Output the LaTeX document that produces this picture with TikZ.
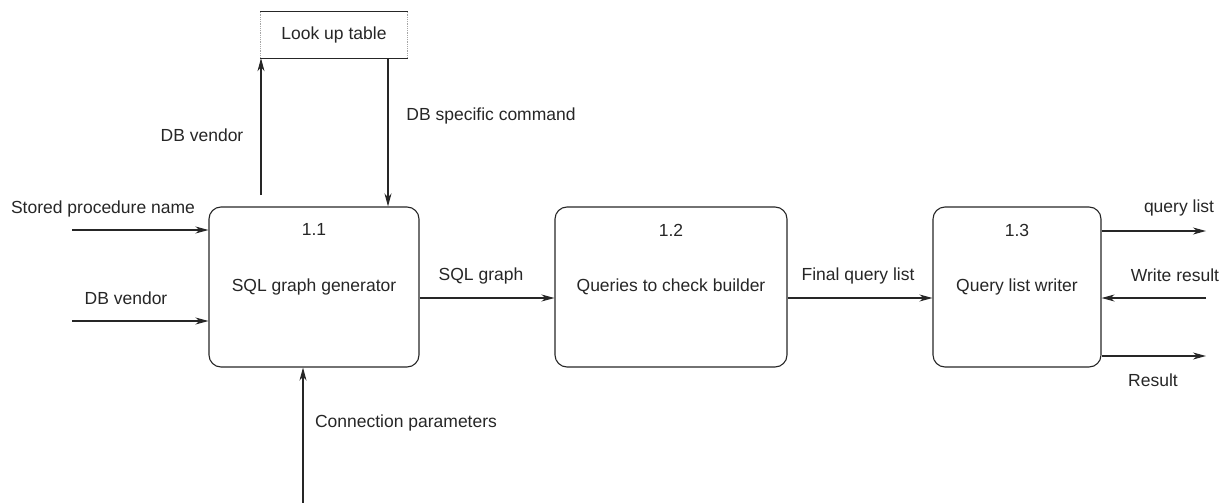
\documentclass[tikz,border=0pt]{standalone}
\usepackage{fontspec}
\setmainfont{Liberation Sans}
\usetikzlibrary{arrows.meta,calc}
\tikzset{
  proc/.style={draw=black!85, line width=1.1pt, rounded corners=12pt, minimum height=160pt, inner sep=0pt},
  lbl/.style={inner sep=0pt, font=\fontsize{17.5}{21}\selectfont, text=black!85},
  arr/.style={draw=black!85, line width=1.1pt, -{Stealth[length=13pt,width=7pt,inset=4pt]}},
  ln/.style={draw=black!85, line width=1.1pt}
}
\begin{document}
\begin{tikzpicture}[x=1pt,y=-1pt]
\useasboundingbox (0,0) rectangle (1229,503);
% process boxes
\node[proc, minimum width=210pt] (b11) at (314,287) {};
\node[proc, minimum width=232pt] (b12) at (671,287) {};
\node[proc, minimum width=168pt] (b13) at (1017,287) {};
\node[lbl] (n11) at ($(b11.north)+(0,23)$) {1.1};
\node[lbl] (t11) at (b11.center) {SQL graph generator};
\node[lbl] (n12) at ($(b12.north)+(0,24)$) {1.2};
\node[lbl] (t12) at (b12.center) {Queries to check builder};
\node[lbl] (n13) at ($(b13.north)+(0,24)$) {1.3};
\node[lbl] (t13) at (b13.center) {Query list writer};
% look up table
\node[inner sep=0pt, minimum width=147pt, minimum height=46pt] (lut) at (334,35) {};
\draw[ln] (lut.north west) -- (lut.north east);
\draw[ln] (lut.south west) -- (lut.south east);
\draw[black!35, densely dotted, line width=0.8pt] (lut.north west) -- (lut.south west);
\draw[black!35, densely dotted, line width=0.8pt] (lut.north east) -- (lut.south east);
\node[lbl] (tlut) at (lut.center) {Look up table};
% coordinates
\coordinate (spn) at (72,230);
\coordinate (dbv) at (72,321);
\coordinate (dbvup) at (261,195);
\coordinate (conn) at (303,503);
\coordinate (ql) at (1206,231);
\coordinate (wr) at (1206,298);
\coordinate (res) at (1206,356);
% connectors
\draw[arr] (spn) -- (spn -| b11.west);
\draw[arr] (dbv) -- (dbv -| b11.west);
\draw[arr] (dbvup) -- (dbvup |- lut.south);
\draw[arr] (lut.south -| 388,0) -- (388,0 |- b11.north);
\draw[arr] (conn) -- (conn |- b11.south);
\draw[arr] ($(b11.east)+(0,11)$) -- ($(b12.west)+(0,11)$);
\draw[arr] ($(b12.east)+(0,11)$) -- ($(b13.west)+(0,11)$);
\draw[arr] (ql -| b13.east) -- (ql);
\draw[arr] (wr) -- (wr -| b13.east);
\draw[arr] (res -| b13.east) -- (res);
% labels
\node[lbl] (l1) at (103,209) {Stored procedure name};
\node[lbl] (l2) at (126,298) {DB vendor};
\node[lbl] (l3) at (202,135) {DB vendor};
\node[lbl] (l4) at (491,116) {DB specific command};
\node[lbl] (l5) at (481,276) {SQL graph};
\node[lbl] (l6) at (858,276) {Final query list};
\node[lbl] (l7) at (406,423) {Connection parameters};
\node[lbl] (l8) at (1179,208) {query list};
\node[lbl] (l9) at (1175,275) {Write result};
\node[lbl] (l10) at (1153,380) {Result};
\end{tikzpicture}
\end{document}
